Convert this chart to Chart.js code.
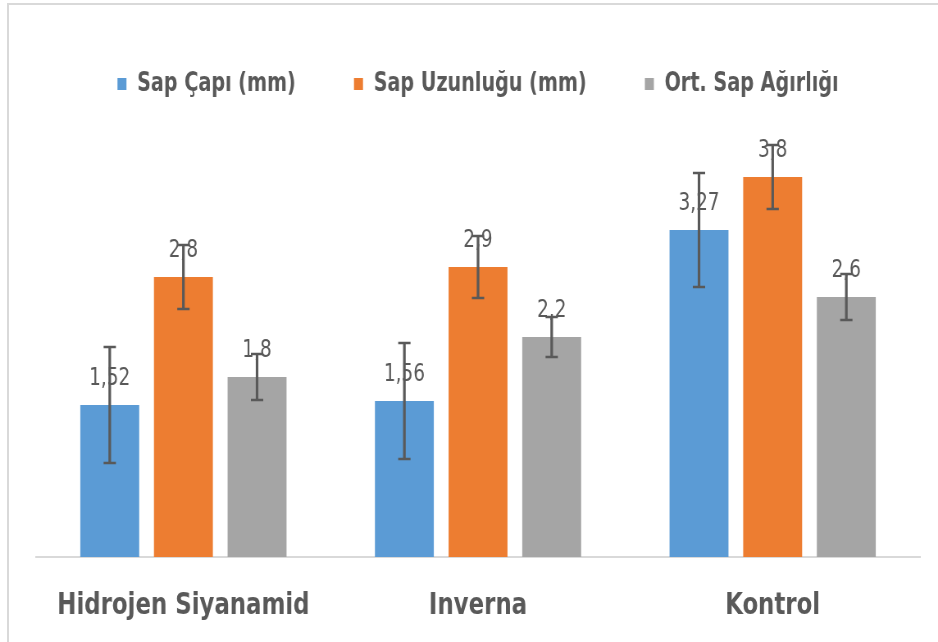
<!DOCTYPE html>
<html>
<head>
<meta charset="utf-8">
<script src="https://cdn.jsdelivr.net/npm/chart.js@4.4.1/dist/chart.umd.min.js"></script>
<style>
    html, body {margin:0; padding:0; background:#fff;}
    #wrap {position:relative; width:938px; height:642px; overflow:hidden;}
    #frame {position:absolute; left:7px; top:3px; width:1000px; height:700px; border-left:2px solid #d9d9d9; border-top:2px solid #d9d9d9;}
    #chart {position:absolute; left:0; top:0;}
</style>
</head>
<body>
<div id="wrap">
    <div id="frame"></div>
    <!-- canvas drawn wider and squeezed back to 938px, gives the narrow office look of the text -->
    <canvas id="chart" width="1144" height="642" style="width:938px;height:642px"></canvas>
</div>
<script>
var categories = ['Hidrojen Siyanamid', 'Inverna', 'Kontrol'];
var sapCapi = [1.52, 1.56, 3.27];
var sapCapiErr = [0.58, 0.58, 0.57];
var sapUzunlugu = [2.8, 2.9, 3.8];
var sapUzunluguErr = [0.32, 0.31, 0.32];
var sapAgirligi = [1.8, 2.2, 2.6];
var sapAgirligiErr = [0.23, 0.2, 0.23];

var FONT = "'DejaVu Sans Condensed', 'DejaVu Sans', sans-serif";
var TEXT = '#595959';

// value labels, then error bars on top of them (as in the excel output)
var barExtras = {
    id: 'barExtras',
    afterDatasetsDraw(chart) {
        let ctx = chart.ctx;
        let y = chart.scales.y;
        ctx.save();
        chart.data.datasets.forEach((ds, i) => {
            let meta = chart.getDatasetMeta(i);
            meta.data.forEach((bar, j) => {
                ctx.font = '25px ' + FONT;
                ctx.fillStyle = TEXT;
                ctx.textAlign = 'center';
                ctx.textBaseline = 'middle';
                ctx.fillText(String(ds.data[j]).replace('.', ','), bar.x, bar.y - 27);
            });
        });
        chart.data.datasets.forEach((ds, i) => {
            let meta = chart.getDatasetMeta(i);
            meta.data.forEach((bar, j) => {
                let v = ds.data[j], e = ds.errors[j];
                let top = y.getPixelForValue(v + e), bot = y.getPixelForValue(v - e);
                ctx.strokeStyle = TEXT;
                ctx.lineWidth = 3.2;
                ctx.beginPath();
                ctx.moveTo(bar.x, top); ctx.lineTo(bar.x, bot);
                ctx.stroke();
                ctx.lineWidth = 2.5;
                ctx.beginPath();
                ctx.moveTo(bar.x - 7.5, top); ctx.lineTo(bar.x + 7.5, top);
                ctx.moveTo(bar.x - 7.5, bot); ctx.lineTo(bar.x + 7.5, bot);
                ctx.stroke();
            });
        });
        ctx.restore();
    }
};

new Chart(document.getElementById('chart'), {
    type: 'bar',
    data: {
        labels: categories,
        datasets: [
            {label: 'Sap Çapı (mm)', data: sapCapi, errors: sapCapiErr, backgroundColor: '#5b9bd5'},
            {label: 'Sap Uzunluğu (mm)', data: sapUzunlugu, errors: sapUzunluguErr, backgroundColor: '#ed7d31'},
            {label: 'Ort. Sap Ağırlığı', data: sapAgirligi, errors: sapAgirligiErr, backgroundColor: '#a5a5a5'}
        ]
    },
    options: {
        responsive: false,
        animation: false,
        devicePixelRatio: 1,
        layout: {padding: {left: 44, right: 22, top: 0, bottom: 21}},
        datasets: {bar: {categoryPercentage: 0.75, barPercentage: 0.8}},
        plugins: {
            legend: {
                position: 'top',
                labels: {boxWidth: 11, boxHeight: 12, padding: 71, color: TEXT, font: {family: FONT, size: 26, weight: 'bold'}}
            },
            tooltip: {enabled: false}
        },
        scales: {
            x: {
                grid: {display: false, drawTicks: false},
                border: {color: '#d9d9d9', width: 2},
                ticks: {color: TEXT, padding: 30, maxRotation: 0, font: {family: FONT, size: 31, weight: 'bold'}},
                afterFit: (s) => { s.height = 64; }
            },
            y: {display: false, min: 0, max: 4.5}
        }
    },
    plugins: [barExtras]
});
</script>
</body>
</html>
